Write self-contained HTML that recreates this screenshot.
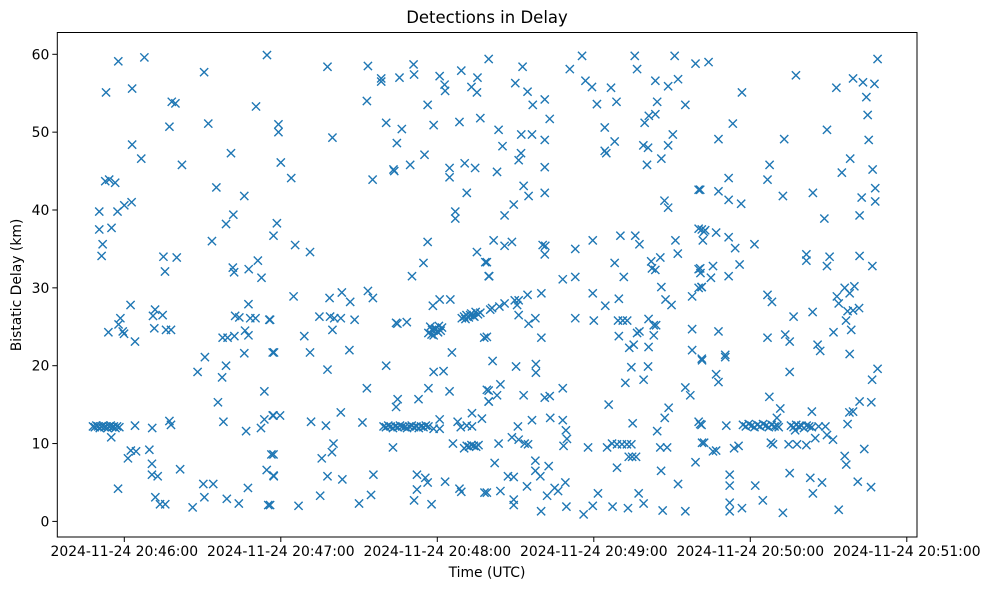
<!DOCTYPE html>
<html><head><meta charset="utf-8"><style>
html,body{margin:0;padding:0;background:#fff;}
svg{display:block;font-family:"DejaVu Sans","Liberation Sans",sans-serif;}
</style></head><body>
<svg id="chart" width="988" height="590" viewBox="0 0 988 590" xmlns="http://www.w3.org/2000/svg">
<rect x="0" y="0" width="988" height="590" fill="#fff"/>
<text x="487" y="23" text-anchor="middle" font-size="16.5">Detections in Delay</text>
<text x="487" y="577" text-anchor="middle" font-size="13.9">Time (UTC)</text>
<text transform="translate(21,285) rotate(-90)" text-anchor="middle" font-size="13.9">Bistatic Delay (km)</text>
<g id="marks"></g>
<g id="axes"></g>
</svg>
<script>
// time in seconds after 20:45:00 UTC, delay in km
const times = [57.7,67.7,53,63,78.2,79.6,77.3,63,66.5,82.1,52.7,54.2,56.5,50.4,57.4,60,62.8,50.4,55.1,51.7,51.3,75,80.1,75.6,90.6,92.2,100.9,95.3,106,101.8,99,93.6,114.7,110.5,101.6,102.1,107.7,111.2,112.6,62.4,71.8,71,74.7,58.5,57.8,53.9,59.4,59.9,64.1,71.5,76,77.9,107.6,102.5,104.1,108.3,110.3,115.6,97.7,99.6,102.2,106.3,107.6,106,90.9,88.1,99,97.5,95.9,113.7,116.9,
48,48.7,49.3,50,50.6,51.2,51.8,52.4,53,53.6,54.2,54.8,55.4,56,56.6,57.2,58.1,
55,64.1,70.7,77.3,77.9,98,106.7,112.4,113.7,116.9,61.4,62.5,64.5,69.6,70.6,70.6,72.8,81.4,57.6,71.9,73.7,75.7,86.2,90.3,94.1,90.7,99.3,103.9,107.4,115.2,116.4,114.6,117.3,
137.9,153.4,158.5,158.5,165.5,170.9,171.1,180.9,182.8,183,189.2,193.1,195.2,195.4,153,176.3,119.1,119.1,139.8,160.4,166.4,164.5,178.6,188.5,196.5,199.7,120,124,155.2,163.2,163.5,169.6,175.1,184.7,184.7,190.5,194.5,191.3,186.9,186.9,118.5,117.2,125.5,131.2,176.3,174.7,170.3,195.2,198.4,199.7,124.9,138.7,143.4,146.6,153.4,155.3,134.8,138.9,140.5,143,148.3,139.8,115.9,164.2,164.7,168.3,178.3,180.9,185,
176.6,177.3,178,178.6,179.3,180,180.6,181.3,181.8,177.8,179,180.3,
189.4,190.3,191.2,192.1,193,193.8,194.7,195.6,196.5,190.8,192.6,194.2,
200.3,198,129,117.4,131.2,146.3,137.9,160.4,178.6,182.4,185.6,153,176.6,184.7,172.8,164.8,164.2,143,117.2,119.7,131.6,137.3,151.3,
159.4,160.3,161.2,162.1,163,163.9,164.8,165.7,166.6,167.5,168.4,169.3,170.2,171.1,172,172.9,173.8,174.7,175.6,176.6,
180.9,180.9,178.6,187.8,189,191.3,193.3,193.3,197.1,199.7,199.7,117.2,140.2,139.6,135.7,163,186,190.3,
191.3,192.2,193.1,194,194.9,195.8,
117.2,137.9,143.6,155.5,172.2,172.2,175.4,176.3,183,188.5,189.2,198.1,115.9,126.8,135.1,150,154.6,171.1,177.8,
212.7,230.8,235.5,255.7,256.6,271,279,209.9,214.6,216.6,221.2,223.1,236.8,239.3,246.6,248.7,241.2,263.6,264.3,268.5,272.3,275.1,259.5,261.1,263.6,203.5,205,212.2,216.3,221.2,211.2,212.1,202.9,221.2,221.2,213.1,215,209.3,205.8,244.2,248,244.2,244.8,259,260.8,260.4,265.9,268.5,270.3,280.2,267.1,268.5,201.6,205.8,208.6,220.4,221.4,221.2,232.9,239.6,250.2,255.9,257.5,271.3,272.2,280.2,282.2,199,199.9,228.1,232.9,248,251.5,262,262.3,263.6,265.5,280.2,280.9,281.3,201,203.8,205.8,209.7,211.2,210.6,214.6,219.9,211.2,215,217.6,219.9,199,232.9,240,239.6,244.4,249.6,249.3,251.1,252.8,249.6,265.9,267.5,269.8,261,263,263.9,263,257.5,256.6,253.6,255.3,261,277.7,280.2,277.7,277.7,281.5,201.2,210.2,217.8,217.8,254.4,260.8,252.1,259.1,199,204.2,202.9,199.7,213.1,221.2,223.1,228.1,245.7,268.7,267.2,264.3,275.1,277,280.2,281.3,210.9,216.3,223.3,228.1,208.6,211.2,213.5,214.8,203.5,229.3,229.7,228.4,237.8,245.1,247,248.9,250.8,252.7,254.4,253.4,254.7,256.2,254.9,265.5,268.1,281.5,202,217.6,217.6,219.5,222.7,207.1,209.3,214.4,199,204.2,209.3,209.3,219.8,222.1,225,226.3,229.1,229.5,236.1,239.6,241.6,247.2,253.1,248.9,257.2,259.1,265.8,266.4,275.1,272.3,279,
284,317.5,296.8,333,339.4,343.2,347.6,344.5,345,345.4,348.8,293.3,287.8,313,329.4,307.4,306.6,338.3,335.1,346.9,347.9,347.9,342.7,291.7,291.7,287.8,296.5,280.8,312.5,324,328.4,341.9,281.4,282.7,281.8,286.9,291.7,294.2,301.6,280.8,285.7,284.9,281.4,291.7,295.9,321.5,321.5,330.4,329.4,341.9,346.8,306.6,308.3,316.6,323.9,333.2,336.2,338.1,339.9,333.9,337.3,339.4,341.7,336.7,338.7,331.9,287.8,306.6,313.4,315.1,325.8,326.8,338.1,281.4,290.4,290.4,286.9,287.8,315.1,346.7,348.8,307.3,311.5,310.2,323.6,337.3,338,339.4,341.9,346.4,280.8,290.8,
297.2,298.3,299.4,300.5,301.6,302.7,303.8,304.9,306,307.1,308.2,309.3,310.4,310.9,
315.6,316.6,317.6,318.6,319.6,320.6,321.6,322.6,323.6,
326.2,328.8,317.2,324.9,329.4,331.7,282.3,285.7,286.9,293.8,295.5,307.9,308.7,314.7,317.9,321.5,343.7,336.2,336.8,292.1,292.1,301.9,315.1,323,327.5,324,341.2,346.3,292.1,292.1,296.8,304.8,312.5,333.9];
const delays = [59.1,59.6,55.1,55.6,53.9,53.7,50.7,48.4,46.6,45.8,43.7,43.9,43.5,39.8,39.8,40.6,41,37.5,37.7,35.6,34.1,34,33.9,32.1,57.7,51.1,47.3,42.9,41.8,39.4,38.2,36,59.9,53.3,32.6,32,32.4,33.5,31.3,27.8,27.2,26.4,26.5,26.1,25.3,24.3,24.4,24.1,23.1,24.8,24.6,24.6,27.9,26.4,26.2,26.1,26.1,25.9,23.6,23.6,23.8,24.5,23.9,21.6,21.1,19.2,20,18.5,15.3,16.7,21.7,
12.2,12.1,12.3,12.2,12.0,12.2,12.3,12.1,12.2,12.0,12.2,12.3,12.1,12.2,12.0,12.2,12.1,
10.8,12.3,12,12.9,12.4,12.8,11.6,12,13.1,13.6,8.1,9.1,9,9.2,7.4,6,5.8,6.7,4.2,3.1,2.2,2.2,1.8,4.8,4.8,3.1,2.9,2.3,4.3,2.1,8.6,6.6,5.8,
58.4,58.5,56.9,56.5,57,58.7,57.4,57.2,56.1,55.3,57.9,55.8,55.1,57,54,53.5,51,50,49.3,51.2,50.4,48.6,50.9,51.3,51.8,59.4,46.1,44.1,43.9,45.2,45,45.8,47.1,45.4,44.2,46,45.4,42.2,39.8,38.9,38.3,36.7,35.5,34.6,35.9,33.2,31.5,34.6,33.3,31.5,28.9,28.7,29.4,28.2,29.6,28.7,26.3,26.3,26.1,26.1,25.9,24.6,25.9,25.5,25.4,25.6,27.7,28.5,28.5,
24.2,25,24.6,23.9,24.8,24.4,25.1,24.5,24.9,24.0,24.7,24.3,
26.1,26.3,26.5,26.2,26.7,26.4,26.9,26.6,26.8,26.0,26.5,26.3,
27.2,23.6,23.8,21.7,21.7,22,19.5,20,19.2,19.3,21.7,17.1,17.1,16.7,15.7,15.7,14.7,14,13.6,13.6,12.8,12.3,12.7,
12.2,12.1,12.3,12.2,12.0,12.2,12.1,12.3,12.2,12.1,12.0,12.2,12.3,12.1,12.2,12.0,12.2,12.1,12.3,12.2,
13.1,11.9,11.9,12.8,12.1,12.3,13.9,12.2,13.2,15.4,16.8,8.6,10,8.9,8.1,9.5,10,9.4,
9.7,9.6,9.8,9.7,9.6,9.8,
5.9,5.8,5.4,6,6,4.1,5.6,5,5.1,4.2,3.8,3.7,2.1,2,3.3,2.3,3.4,2.7,2.2,
58.4,58.1,59.8,59.8,58.1,59.8,58.8,56.3,55.2,53.5,54.2,51.7,56.6,55.8,55.7,53.9,53.6,56.6,53.9,55.9,56.8,53.5,51.2,52.1,52.3,50.3,48.2,49.7,49.7,49,46.4,47.3,44.9,45.5,42.2,43.1,41.8,40.7,39.3,50.6,48.8,47.6,47.3,48.3,48,45.8,46.6,48.3,49.7,42.6,41.2,40.3,36.1,35.4,35.9,35.5,35.4,34.3,35,36.1,36.7,36.7,35.6,36.1,34.4,37.6,37.2,33.3,31.5,31.1,31.4,33.2,31.4,33.4,32.5,32.3,33.9,32.4,31.9,30.1,27.4,27.6,28,28.4,28.4,27.8,29.1,29.3,26.5,25.4,26.1,23.6,23.7,26.1,25.8,29.3,27.7,28.6,25.8,25.8,25.8,23.8,30.1,28.5,27.8,26,25.2,25.2,23.9,24.4,24.2,22.3,22.7,22.4,28.9,30,24.7,22,20.7,20.6,19.9,20.2,19.1,19.8,19.9,17.8,18.2,16.9,17.6,16.2,15.4,16.2,15.9,16.1,17.1,15,14.6,13.3,11.6,17.2,16.2,12.8,12.4,12.2,13,13.3,13,10.8,10.5,10,9.9,10,11.7,10.6,9.7,9.5,9.5,10,9.9,9.9,9.9,9.9,8.3,8.3,8.3,12.6,9.5,9.5,10.1,7.5,7.8,6.5,5.8,7.1,5.8,5.7,4.5,3.7,3.9,2.8,2.1,1.3,3.3,4.3,3.9,5,1.9,0.9,2,3.6,1.9,1.7,6.9,3.6,2.3,6.5,1.4,1.3,4.8,7.6,
59,57.3,55.1,55.7,56.9,56.4,56.2,54.5,52.2,49,59.4,51.1,49.1,49.1,50.3,45.8,43.9,46.6,44.8,45.2,42.8,41.1,41.6,44.1,41.3,42.4,40.8,42.6,41.8,42.2,38.9,39.3,37.5,37.4,36.1,37.1,36.5,35.1,35.6,32.5,32.8,31.3,30.1,31.5,33,34.3,33.5,34,32.8,34.1,32.8,29.1,28.2,26.3,26.9,28.9,30,29.3,30.2,28,27,27.1,27.4,25.8,24.6,24.3,24.4,23.6,24,23.1,22.7,21.9,21.5,20.9,21.4,21.1,18.9,17.9,19.2,18.2,19.6,16,14.5,13.3,14.1,12.5,14,14.1,15.4,15.3,12.5,12.3,
12.4,12.2,12.5,12.3,12.1,12.4,12.2,12.5,12.3,12.1,12.4,12.2,12.3,12.1,
12.3,12.1,12.4,12.2,12.3,12.0,12.3,12.2,12.1,
12.2,12.2,11.7,10.7,11.1,10.5,10.1,9,9.1,9.4,9.7,10.1,9.9,9.9,9.9,9.8,9.3,8.4,7.3,6,4.6,4.6,6.2,5.6,5,3.6,5.1,4.4,2.4,1.3,1.7,2.7,1.1,1.5];
const xTickValues = [60,120,180,240,300,360];
const xTickLabels = ["2024-11-24 20:46:00","2024-11-24 20:47:00","2024-11-24 20:48:00","2024-11-24 20:49:00","2024-11-24 20:50:00","2024-11-24 20:51:00"];
const yTickValues = [0,10,20,30,40,50,60];

const L=57.3,R=917,T=32.5,B=537;
function xs(t){return 124.3+(t-60)*2.6083;}
function ys(v){return 521.4-v*7.785;}
const NS="http://www.w3.org/2000/svg";
const marks=document.getElementById('marks');
const n=Math.min(times.length,delays.length);
for(let i=0;i<n;i++){
  const cx=xs(times[i]),cy=ys(delays[i]),s=4.1;
  const p=document.createElementNS(NS,'path');
  p.setAttribute('d',`M${cx-s},${cy-s}L${cx+s},${cy+s}M${cx-s},${cy+s}L${cx+s},${cy-s}`);
  p.setAttribute('stroke','#1f77b4');p.setAttribute('stroke-width','1.4');p.setAttribute('fill','none');
  
  
  marks.appendChild(p);
}
const axes=document.getElementById('axes');
const frame=document.createElementNS(NS,'rect');
frame.setAttribute('x',L);frame.setAttribute('y',T);frame.setAttribute('width',R-L);frame.setAttribute('height',B-T);
frame.setAttribute('fill','none');frame.setAttribute('stroke','#000');frame.setAttribute('stroke-width','1');


axes.appendChild(frame);
xTickValues.forEach((v,i)=>{
  const x=xs(v);
  const l=document.createElementNS(NS,'line');
  l.setAttribute('x1',x);l.setAttribute('x2',x);l.setAttribute('y1',B);l.setAttribute('y2',B+5);l.setAttribute('stroke','#000');
  
  
  axes.appendChild(l);
  const t=document.createElementNS(NS,'text');
  t.setAttribute('x',x);t.setAttribute('y',B+19);t.setAttribute('text-anchor','middle');t.setAttribute('font-size','13.9');
  t.textContent=xTickLabels[i];
  
  
  axes.appendChild(t);
});
yTickValues.forEach(v=>{
  const y=ys(v);
  const l=document.createElementNS(NS,'line');
  l.setAttribute('x1',L-5);l.setAttribute('x2',L);l.setAttribute('y1',y);l.setAttribute('y2',y);l.setAttribute('stroke','#000');
  
  
  axes.appendChild(l);
  const t=document.createElementNS(NS,'text');
  t.setAttribute('x',L-8);t.setAttribute('y',y+5);t.setAttribute('text-anchor','end');t.setAttribute('font-size','13.9');
  t.textContent=String(v);
  
  
  axes.appendChild(t);
});
</script>
</body></html>
